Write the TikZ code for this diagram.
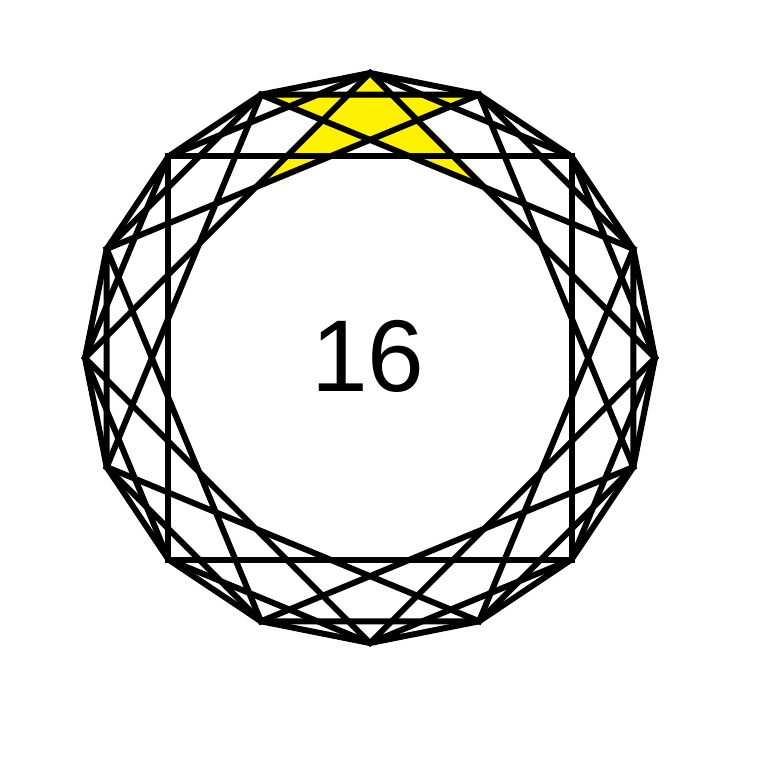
\documentclass[tikz,border=0pt]{standalone}
\usepackage{fontspec}
\setmainfont{Liberation Sans}
\usepackage{tikz}
\tikzstyle{chord} = [line width=6pt, draw=black, line join=miter]
\tikzstyle{starfill} = [fill=yellow]
\tikzstyle{numtext} = [font=\fontsize{102}{102}\selectfont, inner sep=0pt, anchor=base]

\begin{document}
\begin{tikzpicture}[x=1pt, y=1pt]
\useasboundingbox (0,0) rectangle (768,768);

\coordinate (c) at (370,410);
\foreach \i in {0,...,15}
  \path (c) ++({90-22.5*\i}:285) coordinate (v\i);

% yellow star at the top
\coordinate (x1) at (intersection of v0--v12 and v1--v13);
\coordinate (x2) at (intersection of v15--v3 and v0--v4);
\fill [starfill] (v0) -- (x1) -- (v1) -- (v15) -- (x2) -- cycle;

% outer polygon, octagons, squares
\draw [chord] (v0) \foreach \i in {1,...,15} { -- (v\i) } -- cycle;
\foreach \s in {0,1}
  \draw [chord] (v\s) \foreach \k [evaluate=\k as \j using {int(mod(\s+2*\k,16))}] in {1,...,7} { -- (v\j) } -- cycle;
\foreach \s in {0,...,3}
  \draw [chord] (v\s) \foreach \k [evaluate=\k as \j using {int(mod(\s+4*\k,16))}] in {1,2,3} { -- (v\j) } -- cycle;

\node (count) [numtext] at (368,376) {16};

\end{tikzpicture}
\end{document}
